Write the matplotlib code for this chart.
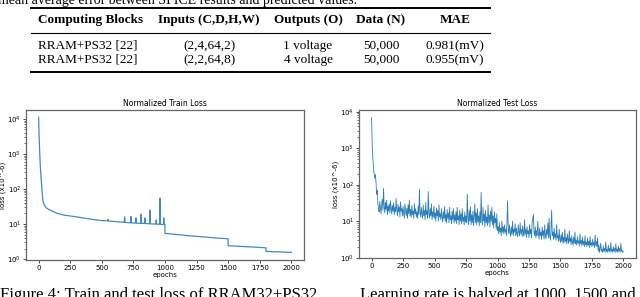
import numpy as np
import matplotlib
matplotlib.use('Agg')
import matplotlib.pyplot as plt

# table
col_headers = ['Computing Blocks', 'Inputs (C,D,H,W)', 'Outputs (O)', 'Data (N)', 'MAE']
row1 = ['RRAM+PS32 [22]', '(2,4,64,2)', '1 voltage', '50,000', '0.981(mV)']
row2 = ['RRAM+PS32 [22]', '(2,2,64,8)', '4 voltage', '50,000', '0.955(mV)']

# train loss (epoch, loss x1e-6)
train_epochs = [0, 4, 8, 12, 16, 20, 25, 30, 35, 45, 60, 80, 100, 150, 200, 250,
                300, 400, 500, 548, 550, 552, 600, 678, 680, 684, 700, 728, 730, 734,
                768, 770, 774, 808, 810, 814, 838, 840, 844, 878, 880, 884, 928, 930,
                934, 958, 960, 964, 988, 990, 994, 999,
                1000, 1100, 1200, 1300, 1400, 1499,
                1500, 1600, 1700, 1799,
                1800, 1900, 2000]
train_loss = [11000, 3000, 1200, 550, 310, 200, 110, 65, 44, 35, 29, 26, 24, 20, 18, 17,
              16, 14, 12.5, 12.4, 13.5, 12.2, 11.8, 11.2, 16, 11.1, 11, 10.9, 16.5, 10.8,
              10.7, 15, 10.6, 10.5, 19, 10.4, 10.4, 15, 10.3, 10.2, 25, 10.1, 10, 13,
              9.9, 9.9, 55, 9.8, 9.7, 15, 9.6, 9.5,
              5.4, 5.0, 4.6, 4.3, 4.0, 3.8,
              2.4, 2.3, 2.2, 2.1,
              1.65, 1.6, 1.55]

# test loss
test_epochs_early = [0, 3, 6, 10, 15, 20, 25, 30, 35, 40, 45]
test_loss_early = [6900, 2500, 900, 560, 300, 200, 150, 190, 120, 55, 70]
test_epochs_rest = list(range(50, 2001, 5))
test_loss_rest = [
    30, 22, 18, 35, 24, 16, 28, 40, 20, 80, 25, 17, 33, 21, 38, 15, 26, 19, 30, 17,
    36, 22, 16, 27, 19, 32, 15, 24, 18, 42, 20, 14, 29, 18, 25, 13, 34, 19, 22, 14,
    26, 17, 12, 30, 19, 14, 23, 12, 28, 16, 38, 14, 21, 13, 27, 15, 19, 12, 30, 16,
    22, 13, 18, 12, 26, 15, 75, 18, 13, 24, 16, 12, 28, 14, 20, 11, 33, 15, 19, 12,
    65, 17, 12, 22, 14, 30, 11, 18, 13, 26, 12, 17, 10, 23, 14, 20, 10, 28, 13, 16,
    11, 22, 13, 9.5, 18, 12, 25, 10, 15, 9, 21, 12, 17, 9, 24, 11, 14, 8.5, 19, 11,
    22, 9, 15, 10, 18, 8.5, 24, 11, 14, 8, 20, 10, 16, 8.5, 22, 10, 13, 8, 18, 9.5,
    14, 9, 55, 12, 8, 20, 10, 25, 8, 15, 9, 19, 7.5, 13, 30, 9, 17, 8, 22, 9.5,
    14, 7.5, 18, 9, 62, 11, 8, 24, 10, 16, 7, 20, 9, 13, 7.5, 28, 9, 15, 7, 19,
    10, 24, 8, 14, 6.5, 18, 9, 12, 6, 16, 5.5, 7, 4.5, 9, 5, 6.5, 4, 10, 5, 7,
    4.5, 8, 5, 6, 4, 9, 36, 6, 4.5, 8, 5, 3.8, 7, 4.5, 10, 4, 6, 5, 8.5, 4,
    6.5, 4.5, 3.8, 8, 5, 4, 9, 4.5, 6, 3.8, 7.5, 5, 4, 11, 4.5, 6, 3.6, 7, 4.5, 5.5,
    3.5, 8, 4.5, 6, 3.5, 9, 12, 15, 5, 4, 7, 3.5, 5.5, 4, 10, 4.5, 3.3, 6.5, 4, 5,
    3.2, 7, 4, 5.5, 3.2, 8, 4, 3.3, 6, 4.2, 9, 3.5, 12, 4, 3, 6, 20, 4, 5, 3.2,
    6.5, 3.5, 4.5, 3, 8, 3.5, 4, 2.8, 6, 3.2, 2.6, 4.2, 2.8, 5, 2.5, 3.6, 2.6, 6, 2.8, 3.5,
    2.4, 4.5, 3, 2.5, 5.5, 2.8, 3.4, 2.3, 4, 2.7, 2.2, 3.6, 2.5, 5, 2.4, 3, 2.2, 3.8, 2.5, 2.9,
    2.1, 4.5, 2.4, 3, 2.1, 3.6, 2.3, 2.8, 2.0, 4, 2.3, 2.7, 2, 3.4, 2.2, 2.8, 1.9, 3.8, 2.2, 2.6,
    2, 3.2, 2.2, 2.6, 1.9, 4.2, 2.1, 2.8, 2, 3.5, 1.5, 2.2, 1.4, 1.8, 2.5, 1.5, 1.7, 1.4, 2.1, 1.5,
    1.8, 1.4, 2.7, 1.5, 1.7, 1.4, 2.2, 1.5, 1.8, 1.4, 2.6, 1.5, 1.7, 1.4, 2.0, 1.5, 1.8, 1.4, 2.4, 1.5,
    1.7, 1.4, 2.1, 1.5, 1.8, 1.4, 2.5, 1.5, 1.6, 1.4, 1.5]


def draw_table(fig):
    W, H = 640.0, 297.0
    serif = 'Liberation Serif'
    # caption line above the table, cut by the page edge
    fig.text(-2 / W, 1 - 4 / H, 'mean average error between SPICE results and predicted values.',
             family=serif, fontsize=10, va='baseline', ha='left')
    for y, lw in [(8, 1.4), (33, 0.8), (72, 1.4)]:
        fig.add_artist(plt.Line2D([31 / W, 490 / W], [1 - y / H, 1 - y / H],
                                  color='black', lw=lw))
    xs = [38, 209, 308, 381, 455]
    has = ['left', 'center', 'center', 'center', 'center']
    for x, ha, h in zip(xs, has, col_headers):
        fig.text(x / W, 1 - 20 / H, h, family=serif, fontsize=9.5, weight='bold',
                 ha=ha, va='center')
    for y, row in [(46, row1), (60, row2)]:
        for x, ha, v in zip(xs, has, row):
            fig.text(x / W, 1 - y / H, v, family=serif, fontsize=9.5,
                     ha=ha, va='center')
    # figure caption below the plots, partly cut off
    fig.text(0, 1 - 287 / H, 'Figure 4: Train and test loss of RRAM32+PS32',
             family=serif, fontsize=12, va='top', ha='left')
    fig.text(360 / W, 1 - 287 / H, 'Learning rate is halved at 1000, 1500 and',
             family=serif, fontsize=12, va='top', ha='left')


def style_axes(ax, title, ylim):
    ax.set_yscale('log')
    ax.set_xlim(-100, 2100)
    ax.set_ylim(*ylim)
    ax.set_xticks([0, 250, 500, 750, 1000, 1250, 1500, 1750, 2000])
    ax.set_title(title, fontsize=5.5, pad=3)
    ax.set_xlabel('epochs', fontsize=5, labelpad=1)
    ax.set_ylabel('loss (x10^-6)', fontsize=5, labelpad=1)
    ax.tick_params(labelsize=5, length=2, width=0.5, pad=1.5)
    ax.tick_params(which='minor', length=1.2, width=0.4)
    for s in ax.spines.values():
        s.set_color('#666666')
        s.set_linewidth(0.9)


fig = plt.figure(figsize=(6.4, 2.97), dpi=100)
draw_table(fig)

ax1 = fig.add_axes([26 / 640, 37 / 297, 278 / 640, 150 / 297])
ax1.plot(train_epochs, train_loss, color='#1f77b4', lw=0.9, alpha=0.85)
style_axes(ax1, 'Normalized Train Loss', (0.94, 1.8e4))

ax2 = fig.add_axes([359 / 640, 39 / 297, 277 / 640, 148 / 297])
ax2.plot(test_epochs_early + test_epochs_rest, test_loss_early + test_loss_rest,
         color='#1f77b4', lw=0.6, alpha=0.95)
style_axes(ax2, 'Normalized Test Loss', (0.98, 1.12e4))

fig.savefig('out.png', dpi=100)
